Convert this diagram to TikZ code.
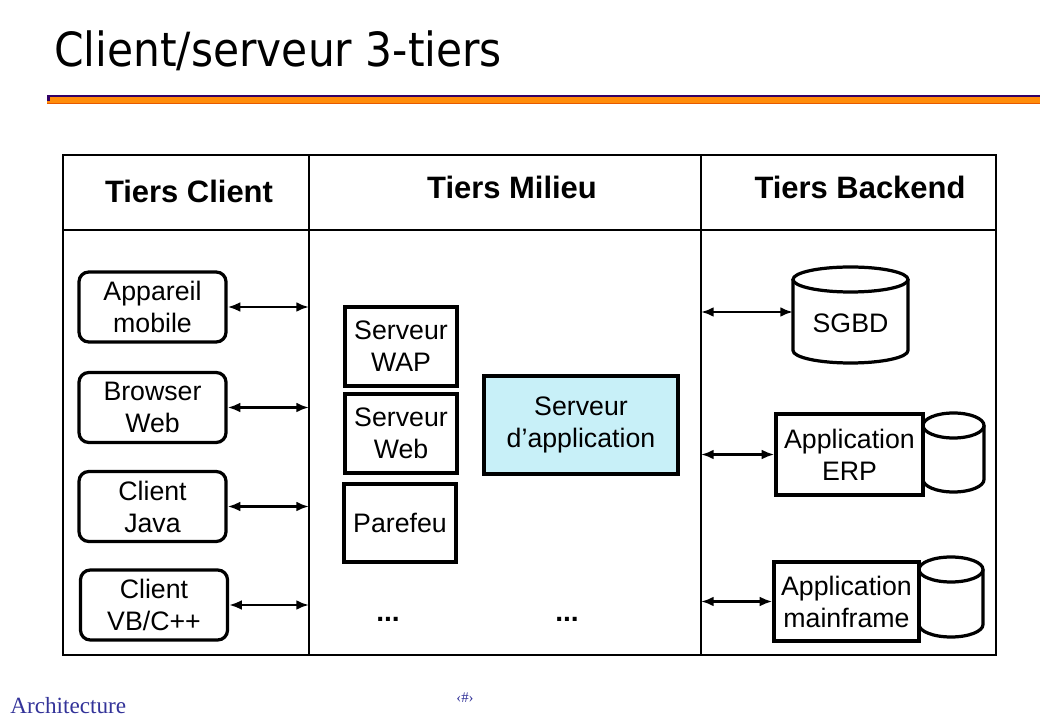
\documentclass[tikz,border=0pt]{standalone}
\usepackage{fontspec}
\setmainfont{Liberation Sans}
\newfontfamily\titlefont{DejaVu Sans Condensed}
\newfontfamily\footfont{Liberation Serif}
\usetikzlibrary{arrows.meta}

\definecolor{appcyan}{RGB}{200,240,248}
\definecolor{ruleorange}{RGB}{255,140,10}
\definecolor{rulepurple}{RGB}{51,0,102}
\definecolor{rulered}{RGB}{230,90,0}
\definecolor{footblue}{RGB}{51,51,153}

\newcommand{\dbcyl}[5]{%
  \draw[cylbody] (#1,#2) ++(-#4cm,0) -- ++(0,#3-#2) arc (180:360:#4cm and #5cm) -- ++(0,#2-#3);
  \draw[cylbody] (#1,#2) ellipse (#4cm and #5cm);}

\begin{document}
\begin{tikzpicture}[x=0.025cm, y=-0.025cm,
  boxtext/.style={inner sep=0pt, align=center, font=\fontsize{19pt}{22.8pt}\selectfont},
  client/.style={boxtext, draw, line width=2.3pt, rounded corners=7pt, minimum width=3.675cm, minimum height=1.75cm},
  server/.style={boxtext, draw, line width=2.3pt, minimum width=2.8cm, minimum height=1.975cm},
  cylbody/.style={draw, line width=2.3pt, fill=white},
  tierhead/.style={anchor=base, font=\fontsize{22pt}{26pt}\selectfont\bfseries},
  frame/.style={line width=1pt},
  dbl/.style={{Latex[length=9pt,width=7pt]}-{Latex[length=9pt,width=7pt]}, line width=1.8pt}]

\useasboundingbox[fill=white] (0,0) rectangle (1040,720);

\node[anchor=base west, inner sep=0pt, font=\fontsize{33.5pt}{38pt}\titlefont] (title) at (54,67) {Client/serveur 3-tiers};

\fill[rulepurple] (47,95.5) rectangle (1040,97.5);
\fill[ruleorange] (47,97.5) rectangle (1040,103);
\fill[rulered] (47,103) rectangle (1040,104);
\fill[rulepurple] (47,97) rectangle (50,101);

\draw[frame] (63,155) rectangle (996,655);
\draw[frame] (63,230) -- (996,230);
\draw[frame] (309,155) -- (309,655);
\draw[frame] (701,155) -- (701,655);
\coordinate (divL) at (309,0);
\coordinate (divR) at (701,0);

\node[tierhead] (hclient) at (189,203) {Tiers Client};
\node[tierhead] (hmilieu) at (512,199) {Tiers Milieu};
\node[tierhead] (hbackend) at (860,199) {Tiers Backend};

\node[client] (mobile) at (152.5,307) {Appareil\\mobile};
\node[client] (browser) at (152.5,407.5) {Browser\\Web};
\node[client] (java) at (152.5,506.5) {Client\\Java};
\node[client] (vbcpp) at (154,605) {Client\\VB/C++};

\node[server] (wap) at (401,346.5) {Serveur\\WAP};
\node[server] (web) at (401,433.5) {Serveur\\Web};
\node[server, minimum height=1.95cm] (parefeu) at (400,523) {Parefeu};
\node[server, fill=appcyan, minimum width=4.85cm, minimum height=2.45cm] (appsrv) at (581,425) {Serveur\\d’application};
\node[boxtext, anchor=base, font=\fontsize{20pt}{22.8pt}\selectfont\bfseries] (dots1) at (388,622) {...};
\node[boxtext, anchor=base, font=\fontsize{20pt}{22.8pt}\selectfont\bfseries] (dots2) at (567,622) {...};

\dbcyl{850.5}{279.5}{350.5}{1.4375}{0.3125}
\node[boxtext] (sgbd) at (850.5,323) {SGBD};
\coordinate (sgbdL) at (793,312);

\dbcyl{953.5}{425.5}{479.5}{0.7625}{0.3125}
\node[server, minimum width=3.675cm, minimum height=2.025cm] (erp) at (849.5,454.5) {Application\\ERP};

\dbcyl{951}{569.5}{624.5}{0.8}{0.3125}
\node[server, minimum width=3.625cm, minimum height=1.975cm] (mainframe) at (846.5,601.5) {Application\\mainframe};

\draw[dbl] (mobile.east) -- (mobile.east -| divL);
\draw[dbl] (browser.east) -- (browser.east -| divL);
\draw[dbl] (java.east) -- (java.east -| divL);
\draw[dbl] (vbcpp.east) -- (vbcpp.east -| divL);

\draw[dbl] (sgbdL -| divR) -- (sgbdL);
\draw[dbl] (erp.west -| divR) -- (erp.west);
\draw[dbl] (mainframe.west -| divR) -- (mainframe.west);

\node[anchor=base west, inner sep=0pt, text=footblue, font=\fontsize{16.5pt}{19pt}\footfont] (footer) at (10,713) {Architecture};
\node[anchor=base, inner sep=0pt, text=footblue, font=\fontsize{10.5pt}{12pt}\footfont] (pagenum) at (465,702) {‹\#›};

\end{tikzpicture}
\end{document}
